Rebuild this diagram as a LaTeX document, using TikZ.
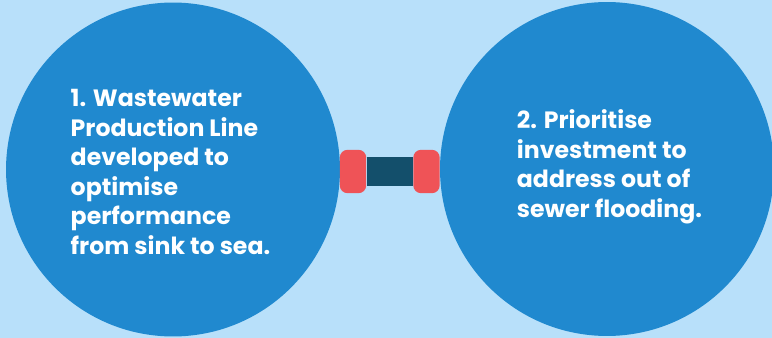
\documentclass[tikz,border=0pt]{standalone}
\usepackage{fontspec}
\setmainfont{Poppins}
\usepackage{tikz}
\usetikzlibrary{positioning}
\definecolor{skybg}{HTML}{B8E0FA}
\definecolor{discblue}{HTML}{2089CF}
\definecolor{capred}{HTML}{EF5357}
\definecolor{bardark}{HTML}{134F6B}

\begin{document}
\begin{tikzpicture}[
    x=0.02cm, y=-0.02cm,
    disc/.style={circle, fill=discblue, minimum size=6.68cm, inner sep=0pt},
    endcap/.style={rectangle, fill=capred, rounded corners=0.16cm, minimum width=0.53cm, minimum height=0.87cm, inner sep=0pt},
    txt/.style={text=white, align=left, font=\fontsize{13.45}{16.8}\selectfont\bfseries, inner sep=0pt},
    bar/.style={draw=bardark, line width=0.58cm}
]
\fill[skybg] (0,0) rectangle (772,338);
\useasboundingbox (0,0) rectangle (772,338);
\node[disc] (left) at (173,169.5) {};
\node[disc] (right) at (607,169) {};
\node[endcap] (capl) at (353,171.5) {};
\node[endcap] (capr) at (426.5,171.5) {};
\draw[bar] (capl.east) -- (capr.west);
\node[txt] (leftlabel) at (170.5,172) {1. Wastewater\\Production Line\\developed to\\optimise\\performance\\from sink to sea.};
\node[txt] (rightlabel) at (609.5,167) {2. Prioritise\\investment to\\address out of\\sewer flooding.};
\end{tikzpicture}
\end{document}
